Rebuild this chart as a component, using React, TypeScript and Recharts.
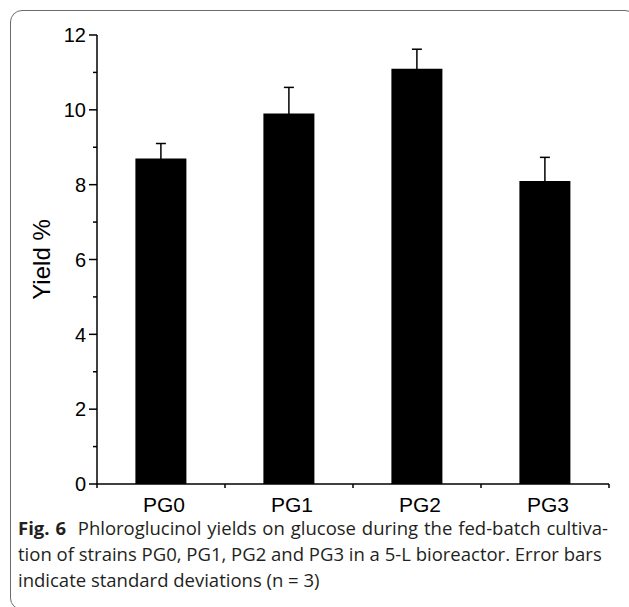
import { BarChart, Bar, XAxis, YAxis, ErrorBar } from 'recharts';

const strains = ['PG0', 'PG1', 'PG2', 'PG3'];
const yields = [8.7, 9.9, 11.1, 8.1];
const stdDevs = [0.4, 0.7, 0.52, 0.63];
const yTicks = [0, 1, 2, 3, 4, 5, 6, 7, 8, 9, 10, 11, 12];

const data = strains.map((name, i) => ({ name, yieldPct: yields[i], sd: stdDevs[i] }));

const W = 629;
const H = 607;
const margin = { top: 35, right: 20, bottom: 93, left: 37 };
const Y_AXIS_W = 60;
const PLOT_W = W - margin.left - margin.right - Y_AXIS_W;
const BAND = PLOT_W / strains.length;
const chartFont = '"Liberation Sans", Arial, sans-serif';

function YTick(props: any) {
  const { x, y, payload } = props;
  const major = payload.value % 2 === 0;
  return (
    <g>
      <line x1={x - (major ? 8 : 4)} x2={x} y1={y} y2={y} stroke="#000" strokeWidth={1.5} />
      {major && (
        <text
          x={x - 11}
          y={y}
          dy="0.36em"
          textAnchor="end"
          fontSize={20}
          fontFamily={chartFont}
          fill="#000"
        >
          {payload.value}
        </text>
      )}
    </g>
  );
}

function XTick(props: any) {
  const { x, y, payload, index } = props;
  const last = index === strains.length - 1;
  return (
    <g>
      <line x1={x - BAND / 2} x2={x - BAND / 2} y1={y} y2={y + 4} stroke="#000" strokeWidth={1.5} />
      {last && (
        <line x1={x + BAND / 2} x2={x + BAND / 2} y1={y} y2={y + 4} stroke="#000" strokeWidth={1.5} />
      )}
      <text
        x={x + 3}
        y={y + 28}
        textAnchor="middle"
        fontSize={21}
        fontFamily={chartFont}
        fill="#000"
      >
        {payload.value}
      </text>
    </g>
  );
}

const lineStyle = { height: 26, whiteSpace: 'nowrap' as const };

export default function App() {
  return (
    <div
      style={{
        position: 'fixed',
        top: 0,
        left: 0,
        width: W,
        height: H,
        overflow: 'hidden',
        background: '#fff',
      }}
    >
      <div
        style={{
          position: 'absolute',
          left: 10,
          top: 10,
          width: 627,
          height: 600,
          border: '1.5px solid #6b6b6b',
          borderRadius: 12,
          boxSizing: 'border-box',
        }}
      />
      <div style={{ position: 'absolute', left: 0, top: 0 }}>
        <BarChart width={W} height={H} data={data} margin={margin} barCategoryGap="30%">
          <XAxis
            dataKey="name"
            height={30}
            tickSize={0}
            tickMargin={0}
            tickLine={false}
            axisLine={{ stroke: '#000', strokeWidth: 1.5 }}
            tick={<XTick />}
            interval={0}
          />
          <YAxis
            width={Y_AXIS_W}
            domain={[0, 12]}
            ticks={yTicks}
            interval={0}
            tickSize={0}
            tickMargin={0}
            tickLine={false}
            axisLine={{ stroke: '#000', strokeWidth: 1.5 }}
            tick={<YTick />}
            label={{
              value: 'Yield %',
              angle: -90,
              position: 'insideLeft',
              offset: 4,
              style: { textAnchor: 'middle', fontSize: 24, fontFamily: chartFont, fill: '#000' },
            }}
          />
          <Bar dataKey="yieldPct" fill="#000" isAnimationActive={false}>
            <ErrorBar dataKey="sd" width={5} stroke="#000" strokeWidth={1.5} />
          </Bar>
        </BarChart>
      </div>
      <div
        style={{
          position: 'absolute',
          left: 18,
          top: 515,
          width: 590,
          fontFamily: '"Open Sans", "Noto Sans", sans-serif',
          fontSize: 18.5,
          lineHeight: '26px',
          color: '#231f20',
        }}
      >
        <div style={{ ...lineStyle, textAlign: 'justify', textAlignLast: 'justify' }}>
          <b>Fig. 6</b>&nbsp; Phloroglucinol yields on glucose during the fed-batch cultiva-
        </div>
        <div style={lineStyle}>tion of strains PG0, PG1, PG2 and PG3 in a 5-L bioreactor. Error bars</div>
        <div style={lineStyle}>indicate standard deviations (n = 3)</div>
      </div>
    </div>
  );
}
